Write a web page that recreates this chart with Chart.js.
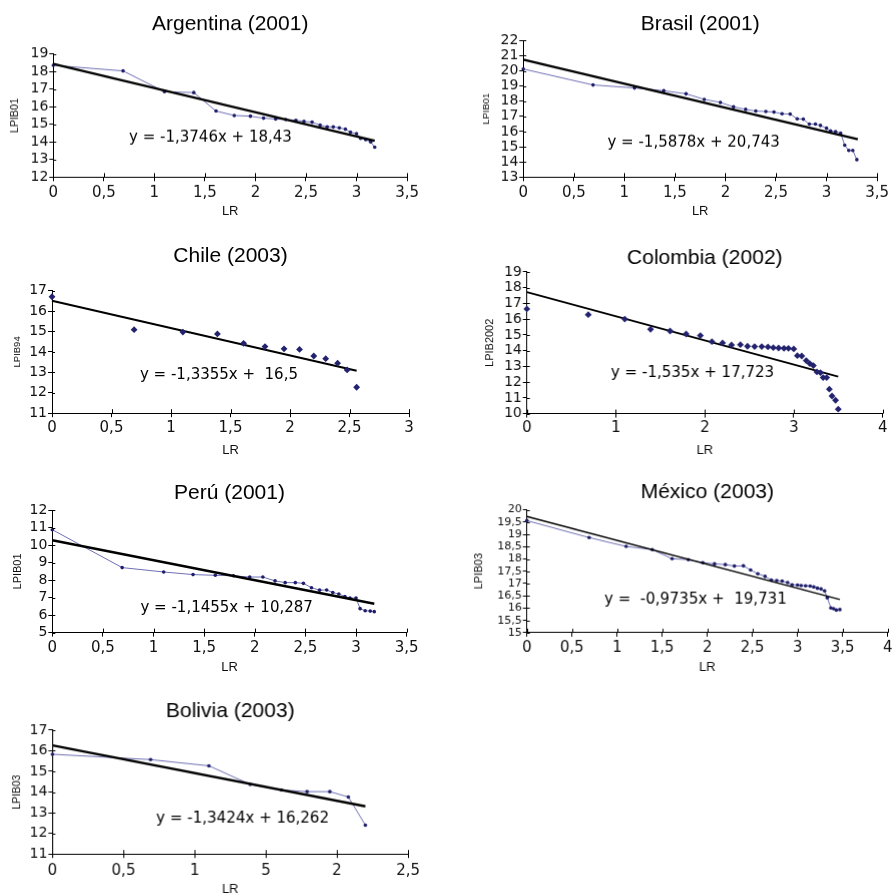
<!DOCTYPE html>
<html>
<head>
<meta charset="utf-8">
<script src="https://cdn.jsdelivr.net/npm/chart.js@4.4.0/dist/chart.umd.min.js"></script>
<style>
  html, body { margin: 0; padding: 0; background: #fff; overflow: hidden; }
  body { width: 893px; height: 894px; position: relative; }
  .panel { position: absolute; }
</style>
</head>
<body>
<div class="panel" id="p-arg"><canvas></canvas></div>
<div class="panel" id="p-bra"><canvas></canvas></div>
<div class="panel" id="p-chi"><canvas></canvas></div>
<div class="panel" id="p-col"><canvas></canvas></div>
<div class="panel" id="p-per"><canvas></canvas></div>
<div class="panel" id="p-mex"><canvas></canvas></div>
<div class="panel" id="p-bol"><canvas></canvas></div>
<script>
// LR values (log of rank) shared by all panels
const lrX = [0, 0.69, 1.1, 1.39, 1.61, 1.79, 1.95, 2.08, 2.2, 2.3, 2.4, 2.48, 2.56, 2.64, 2.71,
             2.77, 2.83, 2.89, 2.94, 3.0, 3.04, 3.09, 3.14, 3.18, 3.22, 3.26, 3.3, 3.33, 3.37,
             3.4, 3.43, 3.47, 3.5];

// LPIB per country
const argY = [18.35, 18.03, 16.85, 16.8, 15.75, 15.5, 15.46, 15.35, 15.3, 15.27, 15.23, 15.16,
              15.12, 14.95, 14.85, 14.85, 14.8, 14.72, 14.55, 14.47, 14.2, 14.13, 14.0, 13.7];
const braY = [20.12, 19.07, 18.87, 18.69, 18.49, 18.12, 17.92, 17.63, 17.46, 17.35, 17.32, 17.28,
              17.17, 17.15, 16.84, 16.82, 16.49, 16.49, 16.4, 16.22, 16.04, 16.0, 15.89, 15.1,
              14.76, 14.76, 14.15];
const chiY = [16.7, 15.09, 14.97, 14.88, 14.42, 14.26, 14.15, 14.12, 13.8, 13.67, 13.45, 13.12, 12.27];
const colY = [16.65, 16.29, 16.01, 15.36, 15.25, 15.06, 14.96, 14.57, 14.49, 14.36, 14.38, 14.28,
              14.26, 14.26, 14.24, 14.19, 14.17, 14.15, 14.15, 14.11, 13.68, 13.66, 13.37, 13.18,
              13.05, 12.65, 12.6, 12.29, 12.29, 11.55, 11.12, 10.85, 10.28];
const perY = [10.89, 8.72, 8.47, 8.32, 8.28, 8.25, 8.18, 8.18, 7.96, 7.86, 7.86, 7.82, 7.57, 7.43,
              7.44, 7.29, 7.21, 7.06, 6.98, 6.98, 6.37, 6.25, 6.23, 6.2];
const mexY = [19.56, 18.87, 18.51, 18.38, 18.01, 17.97, 17.85, 17.8, 17.77, 17.71, 17.72, 17.55,
              17.4, 17.29, 17.14, 17.12, 17.1, 17.04, 16.95, 16.94, 16.92, 16.91, 16.9, 16.86,
              16.81, 16.78, 16.7, 16.42, 16.01, 15.98, 15.92, 15.94];
const bolY = [15.83, 15.57, 15.27, 14.37, 14.1, 14.02, 14.02, 13.76, 12.4];

// regression lines: [start, end] in LR and LPIB
const argTrendX = [0, 3.18], argTrendY = [18.43, 14.06];
const braTrendX = [0, 3.31], braTrendY = [20.743, 15.49];
const chiTrendX = [0, 2.56], chiTrendY = [16.5, 13.08];
const colTrendX = [0, 3.5],  colTrendY = [17.723, 12.35];
const perTrendX = [0, 3.18], perTrendY = [10.287, 6.65];
const mexTrendX = [0, 3.47], mexTrendY = [19.731, 16.35];
const bolTrendX = [0, 2.2],  bolTrendY = [16.262, 13.31];

// tick labels
const xTicks35 = ['0', '0,5', '1', '1,5', '2', '2,5', '3', '3,5'];
const xTicks3 = ['0', '0,5', '1', '1,5', '2', '2,5', '3'];
const xTicks4 = ['0', '1', '2', '3', '4'];
const xTicksMex = ['0', '0,5', '1', '1,5', '2', '2,5', '3', '3,5', '4'];
const xTicksBol = ['0', '0,5', '1', '5', '2', '2,5'];
const yTicksArg = ['12', '13', '14', '15', '16', '17', '18', '19'];
const yTicksBra = ['13', '14', '15', '16', '17', '18', '19', '20', '21', '22'];
const yTicksChi = ['11', '12', '13', '14', '15', '16', '17'];
const yTicksCol = ['10', '11', '12', '13', '14', '15', '16', '17', '18', '19'];
const yTicksPer = ['5', '6', '7', '8', '9', '10', '11', '12'];
const yTicksMex = ['15', '15,5', '16', '16,5', '17', '17,5', '18', '18,5', '19', '19,5', '20'];
const yTicksBol = ['11', '12', '13', '14', '15', '16', '17'];

function pts(xs, ys) {
    return ys.map((v, i) => ({ x: xs[i], y: v }));
}

// equation text plugin
const eqLabel = {
    id: 'eqLabel',
    afterDatasetsDraw(chart, args, opts) {
        if (!opts.text) return;
        const { ctx, scales: { x, y } } = chart;
        ctx.save();
        ctx.font = '15px "DejaVu Sans"';
        ctx.fillStyle = '#000';
        ctx.textAlign = 'center';
        ctx.textBaseline = 'middle';
        ctx.fillText(opts.text, x.getPixelForValue(opts.at[0]), y.getPixelForValue(opts.at[1]));
        ctx.restore();
    }
};

// tick marks also cross into the plot
const innerTicks = {
    id: 'innerTicks',
    afterDraw(chart) {
        const { ctx, chartArea: a, scales: { x, y } } = chart;
        ctx.save();
        ctx.strokeStyle = '#000';
        ctx.lineWidth = 1;
        ctx.beginPath();
        x.ticks.forEach(t => {
            const px = Math.round(x.getPixelForValue(t.value)) + 0.5;
            ctx.moveTo(px, a.bottom);
            ctx.lineTo(px, a.bottom - 4);
        });
        y.ticks.forEach(t => {
            const py = Math.round(y.getPixelForValue(t.value)) + 0.5;
            ctx.moveTo(a.left, py);
            ctx.lineTo(a.left + 3, py);
        });
        ctx.stroke();
        ctx.restore();
    }
};

function makePanel(id, p) {
    const el = document.getElementById(id);
    const g = p.geo;
    const titleLH = 21 * 1.2;
    const top = g.titleY - titleLH / 2;
    const padR = 12;
    const xH = g.lrY - g.plot[3] + 7.8;
    el.style.left = g.left + 'px';
    el.style.top = top + 'px';
    el.style.width = (g.plot[2] + padR - g.left) + 'px';
    el.style.height = (g.plot[3] + xH - top) + 'px';

    const datasets = [];
    const trend = {
        data: pts(p.trendX, p.trendY),
        showLine: true,
        borderColor: '#000',
        borderWidth: p.trendWidth,
        pointRadius: 0,
        clip: false
    };
    const series = p.scatter ? {
        data: pts(lrX, p.y),
        showLine: false,
        pointStyle: 'rectRot',
        pointRadius: 3.4,
        backgroundColor: '#22226e',
        borderColor: '#22226e',
        borderWidth: 0,
        clip: false
    } : {
        data: pts(lrX, p.y),
        showLine: true,
        borderColor: '#6f6fb4',
        borderWidth: 1,
        pointRadius: 1.8,
        pointBackgroundColor: '#1e1e6a',
        pointBorderColor: '#1e1e6a',
        pointBorderWidth: 0,
        clip: false
    };
    if (p.scatter) { datasets.push(series, trend); } else { datasets.push(trend, series); }

    new Chart(el.querySelector('canvas'), {
        type: 'scatter',
        data: { datasets: datasets },
        plugins: [eqLabel, innerTicks],
        options: {
            responsive: true,
            maintainAspectRatio: false,
            animation: false,
            events: [],
            layout: { padding: { left: 0, top: 0, right: padR, bottom: 0 } },
            plugins: {
                legend: { display: false },
                tooltip: { enabled: false },
                title: {
                    display: true,
                    text: p.title,
                    fullSize: false,
                    color: '#000',
                    font: { family: '"Liberation Sans", Arial, sans-serif', size: 21, weight: 'normal', lineHeight: 1.2 },
                    padding: { top: 0, bottom: g.plot[1] - top - titleLH }
                },
                eqLabel: { text: p.eq, at: p.eqAt }
            },
            scales: {
                x: {
                    type: 'linear',
                    min: p.xRange[0], max: p.xRange[1],
                    ticks: {
                        stepSize: p.xRange[2],
                        autoSkip: false,
                        maxRotation: 0,
                        color: '#111',
                        padding: g.tickY - g.plot[3] - 4 - 9,
                        font: { family: '"DejaVu Sans"', size: 15 },
                        callback: (v, i) => p.xTicks[i]
                    },
                    grid: { drawOnChartArea: false, tickLength: 4, color: '#000' },
                    border: { color: '#000', width: 1 },
                    title: {
                        display: true, text: 'LR', color: '#111',
                        padding: 0,
                        font: { family: '"Liberation Sans", Arial, sans-serif', size: 13 }
                    },
                    afterFit: s => { s.height = xH; }
                },
                y: {
                    type: 'linear',
                    min: p.yRange[0], max: p.yRange[1],
                    ticks: {
                        stepSize: p.yRange[2],
                        autoSkip: false,
                        color: '#111',
                        padding: 1,
                        font: { family: '"DejaVu Sans"', size: g.yTickSize },
                        callback: (v, i) => p.yTicks[i]
                    },
                    grid: { drawOnChartArea: false, tickLength: 4, color: '#000' },
                    border: { color: '#000', width: 1 },
                    title: {
                        display: true, text: p.yTitle, color: '#111',
                        padding: { top: g.yTitleX - g.left - g.yTitleSize * 0.6, bottom: 0 },
                        font: { family: '"Liberation Sans", Arial, sans-serif', size: g.yTitleSize }
                    },
                    afterFit: s => { s.width = g.plot[0] - g.left; }
                }
            }
        }
    });
}

makePanel('p-arg', {
    title: 'Argentina (2001)', yTitle: 'LPIB01', eq: 'y = -1,3746x + 18,43', eqAt: [1.555, 14.25],
    y: argY, trendX: argTrendX, trendY: argTrendY, trendWidth: 2.4, scatter: false,
    xRange: [0, 3.5, 0.5], yRange: [12, 19, 1], xTicks: xTicks35, yTicks: yTicksArg,
    geo: { left: 0, plot: [53.3, 54, 410, 176.7], titleY: 25, yTitleX: 15, yTitleSize: 10.5, yTickSize: 14, tickY: 192.7, lrY: 211 }
});
makePanel('p-bra', {
    title: 'Brasil (2001)', yTitle: 'LPIB01', eq: 'y = -1,5878x + 20,743', eqAt: [1.685, 15.25],
    y: braY, trendX: braTrendX, trendY: braTrendY, trendWidth: 2.4, scatter: false,
    xRange: [0, 3.5, 0.5], yRange: [13, 22, 1], xTicks: xTicks35, yTicks: yTicksBra,
    geo: { left: 450, plot: [523.3, 40.7, 880, 176.7], titleY: 25, yTitleX: 486.7, yTitleSize: 9.5, yTickSize: 14, tickY: 192.7, lrY: 211 }
});
makePanel('p-chi', {
    title: 'Chile (2003)', yTitle: 'LPIB94', eq: 'y = -1,3355x +  16,5', eqAt: [1.403, 12.87],
    y: chiY, trendX: chiTrendX, trendY: chiTrendY, trendWidth: 2, scatter: true,
    xRange: [0, 3, 0.5], yRange: [11, 17, 1], xTicks: xTicks3, yTicks: yTicksChi,
    geo: { left: 0, plot: [52, 290.7, 409, 413.3], titleY: 256.7, yTitleX: 17, yTitleSize: 9.5, yTickSize: 14, tickY: 428, lrY: 450.5 }
});
makePanel('p-col', {
    title: 'Colombia (2002)', yTitle: 'LPIB2002', eq: 'y = -1,535x + 17,723', eqAt: [1.862, 12.56],
    y: colY, trendX: colTrendX, trendY: colTrendY, trendWidth: 2, scatter: true,
    xRange: [0, 4, 1], yRange: [10, 19, 1], xTicks: xTicks4, yTicks: yTicksCol,
    geo: { left: 450, plot: [526.7, 271.7, 881.7, 413.3], titleY: 258.3, yTitleX: 489.7, yTitleSize: 11, yTickSize: 14, tickY: 428.3, lrY: 450 }
});
makePanel('p-per', {
    title: 'Perú (2001)', yTitle: 'LPIB01', eq: 'y = -1,1455x + 10,287', eqAt: [1.722, 6.41],
    y: perY, trendX: perTrendX, trendY: perTrendY, trendWidth: 2.4, scatter: false,
    xRange: [0, 3.5, 0.5], yRange: [5, 12, 1], xTicks: xTicks35, yTicks: yTicksPer,
    geo: { left: 0, plot: [52.3, 510, 409.3, 632.3], titleY: 493.3, yTitleX: 18, yTitleSize: 11, yTickSize: 14, tickY: 648, lrY: 667 }
});
makePanel('p-mex', {
    title: 'México (2003)', yTitle: 'LPIB03', eq: 'y =  -0,9735x +  19,731', eqAt: [1.87, 16.36],
    y: mexY, trendX: mexTrendX, trendY: mexTrendY, trendWidth: 1.5, scatter: false,
    xRange: [0, 4, 0.5], yRange: [15, 20, 0.5], xTicks: xTicksMex, yTicks: yTicksMex,
    geo: { left: 450, plot: [526.7, 510, 886.7, 632.3], titleY: 493, yTitleX: 479, yTitleSize: 11, yTickSize: 11, tickY: 648, lrY: 667 }
});
makePanel('p-bol', {
    title: 'Bolivia (2003)', yTitle: 'LPIB03', eq: 'y = -1,3424x + 16,262', eqAt: [1.337, 12.73],
    y: bolY, trendX: bolTrendX, trendY: bolTrendY, trendWidth: 2.4, scatter: false,
    xRange: [0, 2.5, 0.5], yRange: [11, 17, 1], xTicks: xTicksBol, yTicks: yTicksBol,
    geo: { left: 0, plot: [52.3, 730, 410.7, 853.3], titleY: 711.7, yTitleX: 17, yTitleSize: 10.5, yTickSize: 14, tickY: 870, lrY: 889 }
});
</script>
</body>
</html>
